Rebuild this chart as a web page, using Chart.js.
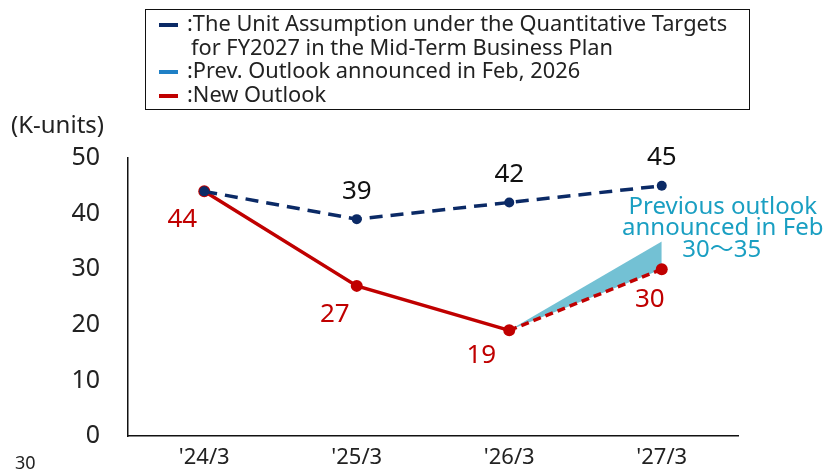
<!DOCTYPE html>
<html>
<head>
<meta charset="utf-8">
<script src="https://cdn.jsdelivr.net/npm/chart.js@4.4.1/dist/chart.umd.min.js"></script>
<style>
  body { margin: 0; background: #fff; }
  #wrap { position: relative; width: 835px; height: 471px; font-family: "Noto Sans", "Noto Sans CJK JP", sans-serif; }
  #legend { position: absolute; left: 145px; top: 9px; width: 605px; height: 101px; border: 1.5px solid #111; box-sizing: border-box; padding: 1px 0 0 13px; font-size: 21.8px; line-height: 23.5px; color: #222; }
  #legend .row { white-space: nowrap; }
  #legend .mk { display: inline-block; width: 19px; height: 4px; margin-right: 9px; vertical-align: middle; }
  #unit { position: absolute; left: 11px; top: 107px; font-size: 24px; color: #222; }
  #page { position: absolute; left: 15px; top: 450px; font-size: 18px; color: #222; }
  canvas { position: absolute; left: 0; top: 0; }
</style>
</head>
<body>
<div id="wrap">
  <canvas id="myChart" width="835" height="471"></canvas>
  <div id="legend">
    <div class="row"><span class="mk" style="background:#0b2a66"></span>:The Unit Assumption under the Quantitative Targets</div>
    <div class="row" style="padding-left:32px">for FY2027 in the Mid-Term Business Plan</div>
    <div class="row"><span class="mk" style="background:#1f80c6"></span>:Prev. Outlook announced in Feb, 2026</div>
    <div class="row"><span class="mk" style="background:#c00000"></span>:New Outlook</div>
  </div>
  <div id="unit">(K-units)</div>
  <div id="page">30</div>
</div>
<script>
const categories = ["'24/3", "'25/3", "'26/3", "'27/3"];
const planValues = [44, 39, 42, 45];
const newOutlook = [44, 27, 19, 30];
const prevHigh = [null, null, 19, 35];
const prevLow = [null, null, 19, 30];
const yTicks = [0, 10, 20, 30, 40, 50];

const navy = '#0b2a66';
const red = '#c00000';
const teal = '#1a9fc2';

// labels drawn from the dataset points
const labelPlugin = {
    id: 'pointLabels',
    afterDatasetsDraw(chart) {
        const ctx = chart.ctx;
        ctx.save();
        ctx.font = '26px "Noto Sans", sans-serif';
        ctx.textBaseline = 'middle';
        ctx.textAlign = 'center';

        const plan = chart.getDatasetMeta(0).data;
        ctx.fillStyle = '#111';
        for (let i = 1; i < plan.length; i++) {
            ctx.fillText(planValues[i], plan[i].x, plan[i].y - 28);
        }

        const red_pts = chart.getDatasetMeta(3).data;
        ctx.fillStyle = red;
        const offs = [[-22, 28], [-22, 29], [-28, 25], [-12, 30]];
        for (let i = 0; i < red_pts.length; i++) {
            ctx.fillText(newOutlook[i], red_pts[i].x + offs[i][0], red_pts[i].y + offs[i][1]);
        }

        const hi = chart.getDatasetMeta(1).data[3];
        ctx.fillStyle = teal;
        ctx.font = '24px "Noto Sans", "Noto Sans CJK JP", sans-serif';
        ctx.fillText('Previous outlook', hi.x + 61, hi.y - 34);
        ctx.fillText('announced in Feb', hi.x + 61, hi.y - 13);
        ctx.fillText('30\u301c35', hi.x + 60, hi.y + 9);
        ctx.restore();
    }
};

const ctx = document.getElementById('myChart').getContext('2d');
const myChart = new Chart(ctx, {
    type: 'line',
    data: {
        labels: categories,
        datasets: [{
            label: 'plan',
            data: planValues,
            borderColor: navy,
            backgroundColor: navy,
            borderWidth: 3.5,
            borderDash: [13, 8],
            pointRadius: 5,
            pointBackgroundColor: navy,
            pointBorderWidth: 0,
            order: 1
        }, {
            label: 'prevHigh',
            data: prevHigh,
            borderWidth: 0,
            pointRadius: 0,
            fill: '+1',
            backgroundColor: '#73c1d4',
            order: 5
        }, {
            label: 'prevLow',
            data: prevLow,
            borderWidth: 0,
            pointRadius: 0,
            fill: false,
            order: 5
        }, {
            label: 'new',
            data: newOutlook,
            borderColor: red,
            backgroundColor: red,
            borderWidth: 3.5,
            pointRadius: 6,
            pointBackgroundColor: red,
            pointBorderWidth: 0,
            segment: {
                borderDash: c => c.p0DataIndex === 2 ? [8, 5] : undefined
            },
            order: 2
        }]
    },
    options: {
        responsive: false,
        animation: false,
        layout: { padding: { left: 0, top: 158, right: 97, bottom: 0 } },
        plugins: {
            legend: { display: false },
            tooltip: { enabled: false }
        },
        scales: {
            x: {
                offset: true,
                grid: { display: false, drawTicks: false },
                border: { display: true, color: '#111', width: 1.5 },
                ticks: {
                    color: '#222',
                    padding: 9,
                    font: { size: 22, family: '"Noto Sans", sans-serif' }
                },
                afterFit: s => { s.height = 28; }
            },
            y: {
                min: 0,
                max: 50,
                afterBuildTicks: s => { s.ticks = yTicks.map(v => ({ value: v })); },
                grid: { display: false },
                border: { display: true, color: '#111', width: 1.5 },
                ticks: {
                    color: '#222',
                    padding: 20,
                    font: { size: 25, family: '"Noto Sans", sans-serif' }
                },
                afterFit: s => { s.width = 128; }
            }
        }
    },
    plugins: [labelPlugin]
});
</script>
</body>
</html>
